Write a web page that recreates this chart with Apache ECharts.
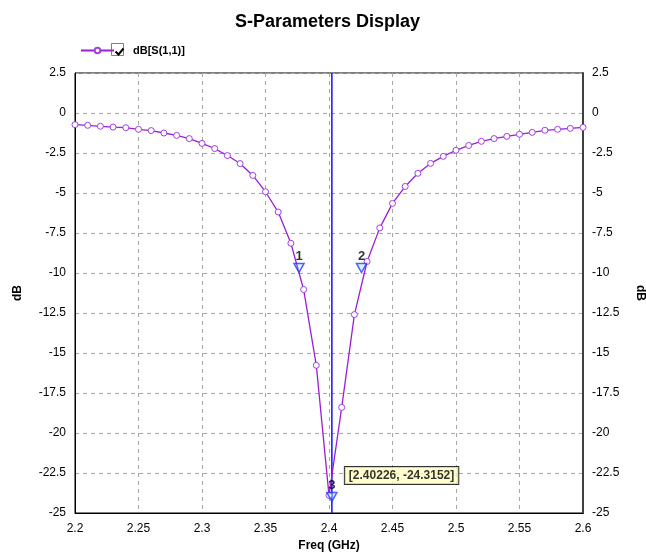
<!DOCTYPE html>
<html>
<head>
<meta charset="utf-8">
<script src="https://cdn.jsdelivr.net/npm/echarts@6/dist/echarts.min.js"></script>
<style>html,body{margin:0;padding:0;background:#fff}#c{width:646px;height:552px}</style>
</head>
<body>
<div id="c"></div>
<script>
const freq = [2.20,2.21,2.22,2.23,2.24,2.25,2.26,2.27,2.28,2.29,2.30,2.31,2.32,2.33,2.34,2.35,2.36,2.37,2.38,2.39,2.40,
              2.41,2.42,2.43,2.44,2.45,2.46,2.47,2.48,2.49,2.50,2.51,2.52,2.53,2.54,2.55,2.56,2.57,2.58,2.59,2.60];
const s11dB = [-0.73,-0.77,-0.83,-0.88,-0.92,-1.02,-1.10,-1.25,-1.40,-1.60,-1.90,-2.22,-2.66,-3.16,-3.90,-4.92,-6.19,-8.14,-11.03,-15.77,-23.90,
               -18.40,-12.60,-9.28,-7.18,-5.65,-4.59,-3.77,-3.15,-2.71,-2.33,-2.03,-1.77,-1.60,-1.46,-1.33,-1.21,-1.08,-1.02,-0.96,-0.90];
const markerNames = ['1','2','3'];
const markerFreq = [2.3764, 2.4256, 2.40226];
const markerVal = [-10.0, -10.0, -24.3152];
const cursorFreq = 2.40226;
const cursorText = '[2.40226, -24.3152]';
const yMin = -25, yMax = 2.5;
const seriesName = 'dB[S(1,1)]';
const titleText = 'S-Parameters Display';
const xName = 'Freq (GHz)';
const yName = 'dB';

const FONT = 'Liberation Sans, Arial, sans-serif';
const curve = freq.map((f, i) => [f, s11dB[i]]);
const markers = markerFreq.map((f, i) => ({value: [f, markerVal[i]], name: markerNames[i]}));

const chart = echarts.init(document.getElementById('c'), null, {renderer: 'canvas'});
const yAxisCommon = {
  type: 'value', min: yMin, max: yMax, interval: 2.5,
  name: yName, nameLocation: 'middle', nameGap: 51,
  nameTextStyle: {fontFamily: FONT, fontWeight: 'bold', fontSize: 12, color: '#000'},
  axisLine: {show: true, lineStyle: {color: '#000', width: 1}},
  axisTick: {show: false},
  axisLabel: {fontFamily: FONT, fontSize: 12, color: '#000', margin: 9},
  splitLine: {show: true, lineStyle: {color: '#a8a8a8', type: [4, 4], width: 1}}
};
chart.setOption({
  animation: false,
  backgroundColor: '#fff',
  title: {text: titleText, left: 230, top: 8,
    textStyle: {fontFamily: FONT, fontWeight: 'bold', fontSize: 18, color: '#000'}},
  legend: {left: 75, top: 40, itemWidth: 33, itemHeight: 7, itemGap: 5, data: [seriesName],
    textStyle: {fontFamily: FONT, fontWeight: 'bold', fontSize: 11, color: '#000', padding: [0, 0, 0, 14]}},
  grid: {left: 75, right: 63, top: 73, bottom: 39, show: true, borderColor: '#000', borderWidth: 1,
    containLabel: false, outerBoundsMode: 'none'},
  xAxis: {
    type: 'value', min: 2.2, max: 2.6, interval: 0.05,
    name: xName, nameLocation: 'middle', nameGap: 25,
    nameTextStyle: {fontFamily: FONT, fontWeight: 'bold', fontSize: 12, color: '#000'},
    axisLine: {show: true, onZero: false, lineStyle: {color: '#000', width: 1}},
    axisTick: {show: false},
    axisLabel: {fontFamily: FONT, fontSize: 12, color: '#000', margin: 10,
      formatter: v => String(Math.round(v * 100) / 100)},
    splitLine: {show: true, lineStyle: {color: '#a8a8a8', type: [4, 4], width: 1}}
  },
  yAxis: [
    Object.assign({}, yAxisCommon, {position: 'left', nameRotate: 90}),
    Object.assign({}, yAxisCommon, {position: 'right', nameRotate: -90,
      axisLine: {show: true, lineStyle: {color: '#404040', width: 2}}, splitLine: {show: false}})
  ],
  series: [
    {
      name: 'cursorLine', type: 'line', yAxisIndex: 0,
      data: [[cursorFreq, yMin], [cursorFreq, yMax]],
      symbol: 'none', lineStyle: {color: '#1010ff', width: 1.5}, silent: true, z: 2
    },
    {
      name: seriesName, type: 'line', data: curve, yAxisIndex: 0,
      symbol: 'circle', symbolSize: 6, showAllSymbol: true,
      lineStyle: {color: '#9a1fd6', width: 1.3},
      itemStyle: {color: '#ffffff', borderColor: '#a040e0', borderWidth: 1, opacity: 1},
      z: 3
    },
    {
      name: 'markers', type: 'scatter', data: markers, yAxisIndex: 0,
      symbol: 'triangle', symbolRotate: 180, symbolSize: [10, 9], symbolOffset: [0, -5],
      itemStyle: {color: 'rgba(120,220,255,0.35)', borderColor: '#1e3cff', borderWidth: 1.5},
      label: {show: true, position: 'top', distance: 0, formatter: p => p.name,
        fontFamily: FONT, fontWeight: 'bold', fontSize: 13, color: '#000'},
      z: 4
    },
    {
      name: 'cursor', type: 'scatter', yAxisIndex: 0,
      data: [{value: [cursorFreq, markerVal[2]]}],
      symbolSize: 0,
      label: {show: true, position: [13, -35], formatter: cursorText,
        fontFamily: FONT, fontWeight: 'bold', fontSize: 12, color: '#000',
        backgroundColor: '#ffffc4', borderColor: '#000', borderWidth: 1,
        padding: [3, 4, 2, 4]},
      z: 5
    }
  ],
  graphic: [
    {type: 'rect', left: 111, top: 43, shape: {width: 12, height: 12},
      style: {fill: '#fff', stroke: '#808080', lineWidth: 1}},
    {type: 'polyline', left: 113, top: 46, shape: {points: [[0, 3], [3, 6], [8, 0]]},
      style: {stroke: '#000', lineWidth: 2, fill: null}}
  ]
});
</script>
</body>
</html>
